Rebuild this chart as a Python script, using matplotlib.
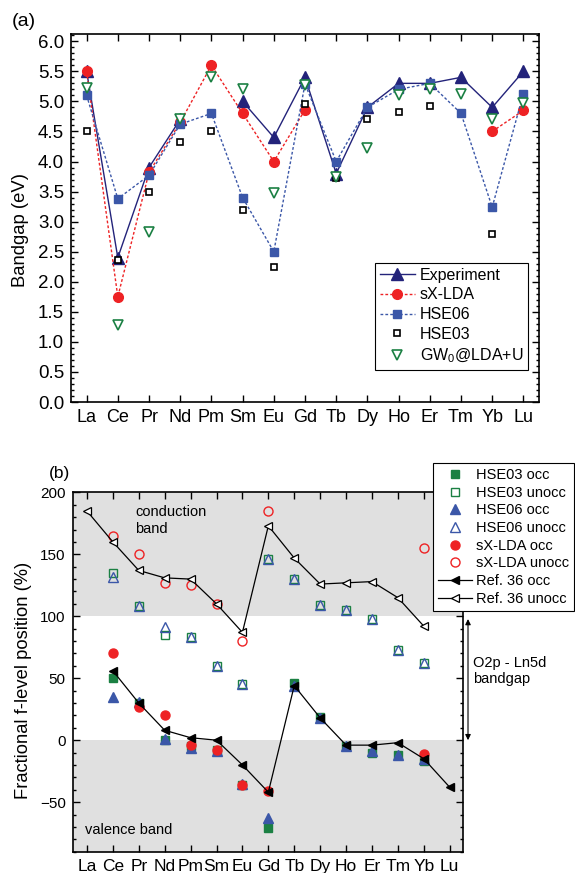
import numpy as np
import matplotlib
matplotlib.use('Agg')
import matplotlib.pyplot as plt
from matplotlib.ticker import MultipleLocator
from matplotlib.transforms import blended_transform_factory

plt.rcParams['font.family'] = ['Liberation Sans', 'DejaVu Sans']
plt.rcParams['mathtext.fontset'] = 'custom'
plt.rcParams['mathtext.rm'] = 'Liberation Sans'
plt.rcParams['mathtext.default'] = 'regular'

nan = np.nan
elements = ['La', 'Ce', 'Pr', 'Nd', 'Pm', 'Sm', 'Eu', 'Gd', 'Tb', 'Dy', 'Ho', 'Er', 'Tm', 'Yb', 'Lu']

# (a) bandgaps in eV
gap_exp = [5.5, 2.4, 3.9, 4.7, nan, 5.0, 4.4, 5.4, 3.8, 4.9, 5.3, 5.3, 5.4, 4.9, 5.5]
gap_sx = [5.5, 1.75, 3.82, 4.65, 5.6, 4.8, 4.0, 4.86, nan, nan, nan, nan, nan, 4.5, 4.85]
gap_hse06 = [5.1, 3.38, 3.77, 4.62, 4.8, 3.4, 2.5, 5.29, 4.0, 4.9, 5.2, 5.3, 4.8, 3.24, 5.13]
gap_hse03 = [4.5, 2.37, 3.5, 4.32, 4.5, 3.2, 2.25, 4.95, 3.72, 4.7, 4.83, 4.93, nan, 2.8, nan]
gap_gw = [5.22, 1.28, 2.82, 4.7, 5.4, 5.2, 3.47, 5.28, 3.75, 4.23, 5.1, 5.2, 5.13, 4.7, 4.98]

# (b) fractional f-level positions in %
hse03_occ = [nan, 50, 30, 0, -5, -8, -36, -71, 46, 19, -5, -10, -12, -17, nan]
hse03_unocc = [nan, 135, 108, 85, 83, 60, 45, 146, 130, 109, 105, 98, 73, 62, nan]
hse06_occ = [nan, 35, 31, 1, -6, -9, -35, -63, 44, 18, -5, -9, -12, -15, nan]
hse06_unocc = [nan, 132, 108, 91, 83, 60, 45, 146, 130, 109, 105, 98, 73, 62, nan]
sx_occ = [nan, 70, 27, 20, -4, -8, -36, -41, nan, nan, nan, nan, nan, -11, nan]
sx_unocc = [nan, 165, 150, 127, 125, 110, 80, 185, nan, nan, nan, nan, nan, 155, nan]
ref_occ = [nan, 56, 30, 8, 2, 0, -20, -42, 44, 18, -4, -4, -2, -15, -38]
ref_unocc = [185, 160, 137, 131, 130, 110, 87, 173, 147, 126, 127, 128, 115, 92, nan]

navy = '#23237a'
red = '#ee2224'
blue = '#3b57a8'
green = '#1b8043'

x = np.arange(len(elements))

fig = plt.figure(figsize=(5.75, 8.73), dpi=100)
ax1 = fig.add_axes([0.1235, 0.5395, 0.8139, 0.4215])
ax2 = fig.add_axes([0.1264, 0.0244, 0.6783, 0.4116])

# ---- panel (a)
dot = (0, (2, 1.5))
ax1.plot(x, gap_exp, '-', color=navy, lw=1, marker='^', ms=8.5, label='Experiment')
ax1.plot(x, gap_sx, ls=dot, color=red, lw=1, marker='o', ms=7, label='sX-LDA')
ax1.plot(x, gap_hse06, ls=dot, color=blue, lw=1, marker='s', ms=6, label='HSE06')
ax1.plot(x, gap_hse03, ls='none', marker='s', ms=5, mfc='white', mec='black', mew=1.2,
         label='HSE03')
ax1.plot(x, gap_gw, ls='none', marker='v', ms=7, mfc='white', mec=green, mew=1.2,
         label='GW$_0$@LDA+U')

ax1.set_xlim(-0.5, 14.5)
ax1.set_ylim(0, 6.12)
ax1.set_xticks(x)
ax1.set_xticklabels(elements)
ax1.yaxis.set_major_locator(MultipleLocator(0.5))
ax1.yaxis.set_minor_locator(MultipleLocator(0.1))
ax1.yaxis.set_major_formatter('{x:.1f}')
ax1.set_ylabel('Bandgap (eV)', fontsize=13.3)
ax1.yaxis.set_label_coords(-0.09, 0.467)

leg1 = ax1.legend(loc='lower right', bbox_to_anchor=(0.976, 0.087), fontsize=11.5,
                  fancybox=False, edgecolor='black', framealpha=1, handlelength=2.2,
                  handletextpad=0.3, labelspacing=0.3, borderpad=0.3, borderaxespad=0)
leg1.get_frame().set_linewidth(0.8)

# ---- panel (b)
ax2.axhspan(100, 200, color='#e0e0e0', lw=0, zorder=0)
ax2.axhspan(-90, 0, color='#e0e0e0', lw=0, zorder=0)

ax2.plot(x, hse03_occ, ls='none', marker='s', ms=5.5, color=green, label='HSE03 occ')
ax2.plot(x, hse03_unocc, ls='none', marker='s', ms=5.5, mfc='none', mec=green, mew=1,
         label='HSE03 unocc')
ax2.plot(x, hse06_occ, ls='none', marker='^', ms=6.5, color=blue, label='HSE06 occ')
ax2.plot(x, hse06_unocc, ls='none', marker='^', ms=6.5, mfc='none', mec=blue, mew=1,
         label='HSE06 unocc')
ax2.plot(x, sx_occ, ls='none', marker='o', ms=6.5, color=red, label='sX-LDA occ')
ax2.plot(x, sx_unocc, ls='none', marker='o', ms=6.5, mfc='none', mec=red, mew=1,
         label='sX-LDA unocc')
ax2.plot(x, ref_occ, '-', color='black', lw=0.9, marker='<', ms=6, label='Ref. 36 occ')
ax2.plot(x, ref_unocc, '-', color='black', lw=0.9, marker='<', ms=6, mfc='white', mew=0.9,
         label='Ref. 36 unocc')

ax2.set_xlim(-0.55, 14.5)
ax2.set_ylim(-90, 200)
ax2.set_xticks(x)
ax2.set_xticklabels(elements)
ax2.yaxis.set_major_locator(MultipleLocator(50))
ax2.yaxis.set_minor_locator(MultipleLocator(10))
ax2.set_ylabel('Fractional f-level position (%)', fontsize=13.2)
ax2.yaxis.set_label_coords(-0.104, 0.478)

ax2.text(1.86, 190, 'conduction\nband', fontsize=10.5, va='top', ha='left', linespacing=1.25)
ax2.text(-0.07, -67, 'valence band', fontsize=10.5, va='top', ha='left')

tr = blended_transform_factory(ax2.transAxes, ax2.transData)
ax2.annotate('', xy=(1.0136, 0), xytext=(1.0136, 100), xycoords=tr, textcoords=tr,
             arrowprops=dict(arrowstyle='<|-|>', color='black', lw=0.8, mutation_scale=8,
                             shrinkA=2, shrinkB=0), annotation_clip=False)
ax2.text(1.026, 68, 'O2p - Ln5d\nbandgap', transform=tr, fontsize=10.5, va='top', ha='left',
         linespacing=1.2, clip_on=False)

leg2 = ax2.legend(loc='upper left', bbox_to_anchor=(0.924, 1.0815), fontsize=10.5,
                  fancybox=False, edgecolor='black', framealpha=1, handlelength=2.3,
                  handletextpad=0.3, labelspacing=0.25, borderpad=0.35, borderaxespad=0)
leg2.get_frame().set_linewidth(0.8)

for ax, xs, ys in [(ax1, 13, 13.5), (ax2, 12.5, 11)]:
    for sp in ax.spines.values():
        sp.set_linewidth(1.2)
    ax.tick_params(which='both', direction='in', top=True, right=True, width=1)
    ax.tick_params(which='major', length=5)
    ax.tick_params(which='minor', length=2.5)
    ax.tick_params(axis='x', labelsize=xs, pad=5)
    ax.tick_params(axis='y', labelsize=ys, pad=5)

fig.text(0.021, 0.975, '(a)', fontsize=14, va='center', ha='left')
fig.text(0.085, 0.458, '(b)', fontsize=12.5, va='center', ha='left')

fig.savefig('out.png', dpi=100)
